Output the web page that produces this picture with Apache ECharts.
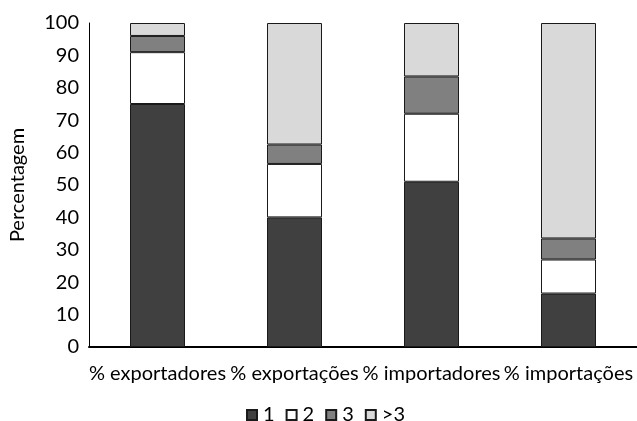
<!DOCTYPE html>
<html>
<head>
<meta charset="utf-8">
<script src="https://cdn.jsdelivr.net/npm/echarts@6/dist/echarts.min.js"></script>
<style>
  html, body { margin: 0; padding: 0; background: #fff; }
  #chart { width: 637px; height: 421px; }
</style>
</head>
<body>
<div id="chart"></div>
<script>
// Categories along the x axis
const categories = ['% exportadores', '% exportações', '% importadores', '% importações'];

// Share (%) per group
const seriesNames = ['1', '2', '3', '>3'];
const values1 = [75, 40, 51, 16.5];
const values2 = [16, 16.5, 21, 10.5];
const values3 = [5, 6, 11.5, 6.5];
const valuesMore = [4, 37.5, 16.5, 66.5];

const colors = ['#404040', '#ffffff', '#808080', '#d9d9d9'];
const FONT = 'Lato';
const FS = 20;

const chart = echarts.init(document.getElementById('chart'), null, { renderer: 'canvas' });

const allValues = [values1, values2, values3, valuesMore];

chart.setOption({
  animation: false,
  backgroundColor: '#ffffff',
  textStyle: { fontFamily: FONT },
  grid: { left: 89, top: 23, width: 550, height: 324, containLabel: false },
  legend: {
    data: seriesNames,
    left: 246,
    top: 405,
    padding: 0,
    icon: 'rect',
    itemWidth: 10,
    itemHeight: 10,
    itemGap: 11,
    textStyle: { fontFamily: FONT, fontSize: FS, color: '#000', padding: [0, 0, 0, 1] }
  },
  xAxis: {
    type: 'category',
    data: categories,
    axisLine: { show: true, lineStyle: { color: '#000', width: 2 } },
    axisTick: { show: false },
    axisLabel: { fontFamily: FONT, fontSize: FS, color: '#000', margin: 17, interval: 0 }
  },
  yAxis: {
    type: 'value',
    min: 0,
    max: 100,
    interval: 10,
    name: 'Percentagem',
    nameLocation: 'middle',
    nameRotate: 90,
    nameGap: 61,
    nameTextStyle: { fontFamily: FONT, fontSize: FS, color: '#000' },
    axisLine: { show: true, lineStyle: { color: '#000', width: 1 } },
    axisTick: { show: false },
    splitLine: { show: false },
    axisLabel: { fontFamily: FONT, fontSize: FS, color: '#000', margin: 10 }
  },
  series: seriesNames.map((name, i) => ({
    name: name,
    type: 'bar',
    stack: 'total',
    barWidth: 55,
    data: allValues[i],
    itemStyle: { color: colors[i], borderColor: '#1a1a1a', borderWidth: 1 }
  }))
});
</script>
</body>
</html>
